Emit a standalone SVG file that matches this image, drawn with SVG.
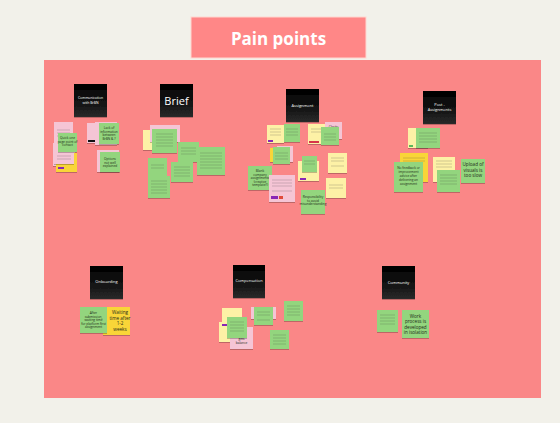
<svg xmlns="http://www.w3.org/2000/svg" width="560" height="423" viewBox="0 0 560 423">
<defs>
<linearGradient id="hg" x1="0" y1="0" x2="0" y2="1"><stop offset="0" stop-color="#000"/><stop offset="0.6" stop-color="#151515"/><stop offset="1" stop-color="#2a2a2a"/></linearGradient>
<filter id="sh" x="-20%" y="-20%" width="140%" height="150%"><feDropShadow dx="0" dy="0.8" stdDeviation="0.7" flood-color="#000" flood-opacity="0.3"/></filter>
</defs>
<style>
text{font-family:"Open Sans","Liberation Sans",sans-serif}
.h{fill:url(#hg);filter:url(#sh)}
.ht{fill:#fff;font-size:4px;text-anchor:middle}
.g{fill:#93d57e;filter:url(#sh)}
.y{fill:#fdf1a6;filter:url(#sh)}
.o{fill:#f9d537;filter:url(#sh)}
.p{fill:#f5c5d5;filter:url(#sh)}
.t{fill:#1d2a18;font-size:3.2px;text-anchor:middle}
.tb{fill:#1d2a18;font-size:4.6px;text-anchor:middle}
.l{stroke:#3a3a3a;stroke-width:0.5;opacity:0.45}
</style>
<rect width="560" height="423" fill="#f2f1ea"/>
<g id="title">
<rect x="191" y="17" width="175" height="41" fill="#ff8787" stroke="#ffd7d0" stroke-width="1"/>
<text x="278.5" y="45" font-size="17" font-weight="bold" fill="#fff" text-anchor="middle">Pain points</text>
</g>
<rect id="area" x="44" y="60" width="497" height="338" fill="#fa8787"/>
<g id="connectors"></g>

<g id="communication">
<rect class="h" x="74" y="84" width="33" height="33"/>
<text class="ht" x="90.5" y="99" style="font-size:3.4px">Communication</text><text class="ht" x="90.5" y="103.5" style="font-size:3.4px">with BrBN</text>
<rect class="p" x="54" y="122" width="19" height="22"/>
<path class="l" d="M57 130h13M57 133h13M57 136h13"/>
<rect class="p" x="53" y="143" width="22" height="23"/>
<rect class="o" x="56" y="153" width="21" height="19"/>
<rect x="58" y="167" width="6" height="2" fill="#8a27b5"/>
<rect class="p" x="54" y="146" width="20" height="18"/>
<path class="l" d="M57 156h14M57 159h14"/>
<rect class="g" x="58" y="133" width="19" height="19"/>
<text class="t" x="67.5" y="139">Quick one</text><text class="t" x="67.5" y="142.5">page point of</text><text class="t" x="67.5" y="146">contact</text>
<rect class="p" x="87" y="123" width="13" height="20"/>
<rect x="88" y="140" width="10" height="2" fill="#111"/>
<rect class="p" x="95" y="122" width="22" height="23"/>
<rect class="g" x="99" y="123" width="20" height="21"/>
<text class="t" x="109" y="129">Lack of</text><text class="t" x="109" y="132.5">information</text><text class="t" x="109" y="136">between</text><text class="t" x="109" y="139.5">BrBN &amp; ?</text>
<rect class="p" x="97" y="150" width="22" height="22"/>
<rect class="g" x="100" y="152" width="20" height="20"/>
<text class="t" x="110" y="160">Options</text><text class="t" x="110" y="163.5">not well</text><text class="t" x="110" y="167">explained</text>
</g>

<g id="brief">
<rect class="h" x="160" y="84" width="33" height="33"/>
<text class="ht" x="176.5" y="104.5" style="font-size:11px">Brief</text>
<rect class="y" x="143" y="130" width="11" height="20"/>
<rect class="p" x="150" y="125" width="30" height="17"/>
<rect class="g" x="152" y="129" width="25" height="24"/>
<path class="l" d="M156 134h17M156 137h17M156 140h17M156 143h17M156 146h17"/>
<rect class="g" x="178" y="142" width="21" height="20"/>
<path class="l" d="M181 148h15M181 151h15M181 154h15"/>
<rect class="g" x="197" y="147" width="28" height="28"/>
<path class="l" d="M200 153h22M200 156h22M200 159h22M200 162h22M200 165h22M200 168h22"/>
<rect class="g" x="148" y="158" width="19" height="19"/>
<path class="l" d="M151 165h13M151 168h13"/>
<rect class="g" x="171" y="162" width="22" height="20"/>
<path class="l" d="M174 167h16M174 170h16M174 173h16M174 176h16"/>
<rect class="g" x="148" y="176" width="22" height="22"/>
<path class="l" d="M151 181h16M151 184h16M151 187h16M151 190h16M151 193h16"/>
</g>

<g id="assignment">
<rect class="h" x="286" y="89" width="33" height="33"/>
<text class="ht" x="302.5" y="106.5">Assignment</text>
<rect class="y" x="267" y="125" width="17" height="18"/>
<rect x="268" y="140" width="5" height="2" fill="#8a27b5"/>
<path class="l" d="M270 129h11M270 132h11M270 135h11"/>
<rect class="g" x="284" y="124" width="16" height="18"/>
<path class="l" d="M286 129h12M286 132h12M286 135h12"/>
<rect class="y" x="308" y="124" width="19" height="20"/>
<rect x="309" y="141" width="10" height="2" fill="#d8344a"/>
<path class="l" d="M311 129h13M311 132h13"/>
<rect class="p" x="325" y="122" width="17" height="17"/>
<text class="t" x="333.5" y="127.5">Clarity</text>
<rect class="g" x="321" y="127" width="18" height="18"/>
<path class="l" d="M324 134h12M324 137h12M324 140h12"/>
<rect class="o" x="270" y="148" width="8" height="14"/>
<rect class="p" x="277" y="146" width="16" height="16"/>
<rect class="g" x="273" y="147" width="17" height="17"/>
<path class="l" d="M275 153h13M275 156h13M275 159h13"/>
<rect class="y" x="298" y="161" width="21" height="20"/>
<rect x="300" y="178" width="6" height="2" fill="#8a27b5"/>
<rect class="g" x="302" y="156" width="15" height="16"/>
<path class="l" d="M304 161h11M304 164h11"/>
<rect class="y" x="328" y="153" width="19" height="20"/>
<path class="l" d="M331 158h13M331 161h13M331 166h13"/>
<rect class="y" x="326" y="178" width="20" height="20"/>
<path class="l" d="M329 185h14M329 188h14"/>
<rect class="g" x="248" y="166" width="24" height="24"/>
<text class="t" x="260" y="172">Blank</text><text class="t" x="260" y="175.5">company</text><text class="t" x="260" y="179">assignments</text><text class="t" x="260" y="182.5">(creative</text><text class="t" x="260" y="186">template?)</text>
<rect class="p" x="269" y="175" width="26" height="27"/>
<path class="l" d="M272 180h20M272 183h20M272 186h20M272 191h20"/>
<rect x="271" y="196" width="7" height="3" fill="#8a27b5"/><rect x="279" y="196" width="4" height="3" fill="#e04a3a"/>
<rect class="g" x="301" y="190" width="24" height="24"/>
<text class="t" x="313" y="198">Responsibility</text><text class="t" x="313" y="201.5">to avoid</text><text class="t" x="313" y="205">misunderstanding</text>
</g>

<g id="post-assignments">
<rect class="h" x="423" y="91" width="33" height="33"/>
<text class="ht" x="439.5" y="106">Post -</text><text class="ht" x="439.5" y="111">Assignments</text>
<rect class="y" x="408" y="128" width="20" height="20"/>
<rect x="409" y="145" width="4" height="2" fill="#5cb85c"/>
<rect class="g" x="416" y="128" width="24" height="20"/>
<path class="l" d="M419 133h18M419 136h18M419 139h18M419 142h18"/>
<rect class="o" x="400" y="153" width="28" height="29"/>
<path class="l" d="M403 158h22M403 161h22"/>
<rect class="g" x="394" y="162" width="29" height="30"/>
<text class="t" x="408.5" y="169">No feedback or</text><text class="t" x="408.5" y="173">improvement</text><text class="t" x="408.5" y="177">advice after</text><text class="t" x="408.5" y="181">delivering an</text><text class="t" x="408.5" y="185">assignment</text>
<rect class="y" x="433" y="157" width="22" height="25"/>
<path class="l" d="M436 161h16M436 164h16M436 167h16"/>
<rect class="g" x="437" y="170" width="23" height="22"/>
<path class="l" d="M440 175h17M440 178h17M440 181h17M440 184h17"/>
<rect class="g" x="461" y="159" width="24" height="24"/>
<text class="tb" x="473" y="166">Upload of</text><text class="tb" x="473" y="171.5">visuals is</text><text class="tb" x="473" y="177">too slow</text>
</g>

<g id="onboarding">
<rect class="h" x="90" y="266" width="33" height="33"/>
<text class="ht" x="106.5" y="283">Onboarding</text>
<rect class="o" x="103" y="307" width="27" height="28"/>
<text class="tb" x="120" y="314">Waiting</text><text class="tb" x="120" y="319.5">time after</text><text class="tb" x="120" y="325">1-2</text><text class="tb" x="120" y="330.5">weeks</text>
<rect class="g" x="80" y="307" width="27" height="26"/>
<text class="t" x="93.5" y="314">After</text><text class="t" x="93.5" y="317.5">submission,</text><text class="t" x="93.5" y="321">waiting time</text><text class="t" x="93.5" y="324.5">for platform first</text><text class="t" x="93.5" y="328">assignment</text>
</g>

<g id="compensation">
<rect class="h" x="233" y="265" width="32" height="33"/>
<text class="ht" x="249" y="282">Compensation</text>
<rect class="y" x="222" y="308" width="20" height="22"/>
<rect class="y" x="219" y="322" width="21" height="20"/>
<rect x="222" y="324" width="5" height="2" fill="#8a27b5"/>
<rect class="p" x="230" y="327" width="23" height="22"/>
<text class="t" x="241.5" y="340">gets</text><text class="t" x="241.5" y="344">balance</text>
<rect class="g" x="227" y="317" width="20" height="21"/>
<path class="l" d="M230 322h14M230 325h14M230 328h14M230 331h14"/>
<rect class="p" x="251" y="307" width="25" height="12"/>
<rect class="g" x="254" y="307" width="19" height="18"/>
<path class="l" d="M257 312h13M257 315h13M257 320h13"/>
<rect class="g" x="284" y="301" width="19" height="20"/>
<path class="l" d="M287 306h13M287 309h13M287 312h13M287 315h13"/>
<rect class="g" x="270" y="330" width="19" height="19"/>
<path class="l" d="M273 335h13M273 338h13M273 341h13M273 344h13"/>
</g>

<g id="community">
<rect class="h" x="382" y="266" width="33" height="33"/>
<text class="ht" x="398.5" y="284">Community</text>
<rect class="g" x="377" y="310" width="21" height="22"/>
<path class="l" d="M380 315h15M380 318h15M380 321h15M380 324h15"/>
<rect class="g" x="402" y="310" width="27" height="28"/>
<text class="tb" x="415.5" y="317.5">Work</text><text class="tb" x="415.5" y="323">process is</text><text class="tb" x="415.5" y="328.5">developed</text><text class="tb" x="415.5" y="334">in isolation</text>
</g>
</svg>
